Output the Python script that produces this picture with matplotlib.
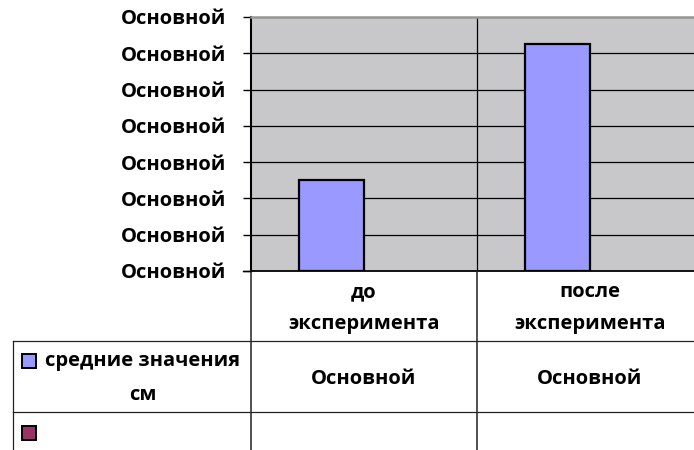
import matplotlib
matplotlib.use("Agg")
import matplotlib.pyplot as plt
from matplotlib.patches import Rectangle
from matplotlib.transforms import blended_transform_factory

# --- data -------------------------------------------------------------
categories = ["до\nэксперимента", "после\nэксперимента"]
series_names = ["средние значения\nсм", ""]
series_values = [[2.5, 6.25], [None, None]]
series_colors = ["#9999FF", "#993366"]
y_ticks = [0, 1, 2, 3, 4, 5, 6, 7]
y_tick_labels = ["Основной"] * len(y_ticks)
cell_labels = [["Основной", "Основной"], ["", ""]]

W, H = 694, 450
FONT = ["Open Sans", "DejaVu Sans"]
FS = 14.5

fig = plt.figure(figsize=(W / 100, H / 100), dpi=100)
fig.patch.set_facecolor("white")

# plot area in pixel coordinates (left, top, right, bottom)
L, T, R, B = 251, 17, 703, 271
ax = fig.add_axes([L / W, (H - B) / H, (R - L) / W, (B - T) / H])
ax.set_facecolor("#C8C8CB")

n_cat = len(categories)
x = list(range(n_cat))
bar_w = 0.288
n_ser = len(series_values)
for i, vals in enumerate(series_values):
    off = (i - (n_ser - 1) / 2) * bar_w
    for xi, v in zip(x, vals):
        if v is None:
            continue
        ax.bar(xi + off, v, width=bar_w, color=series_colors[i],
               edgecolor="black", linewidth=1.6, zorder=3)

ax.set_xlim(-0.5, n_cat - 0.5)
ax.set_ylim(y_ticks[0], y_ticks[-1])
ax.set_yticks(y_ticks)
ax.set_yticklabels(y_tick_labels, fontfamily=FONT, fontweight="bold", fontsize=FS)
ax.set_xticks([])
ax.tick_params(axis="y", length=6, width=1.0, color="black", pad=12)
for g in y_ticks[1:-1]:
    ax.axhline(g, color="black", linewidth=0.9, zorder=1)
for k in range(1, n_cat):
    ax.axvline(k - 0.5, color="black", linewidth=0.9, zorder=1)

ax.spines["right"].set_visible(False)
ax.spines["top"].set_color("#969696")
ax.spines["top"].set_linewidth(1.8)
ax.spines["left"].set_linewidth(1.5)
ax.spines["bottom"].set_linewidth(1.3)

# --- data table below the plot ----------------------------------------
ov = fig.add_axes([0, 0, 1, 1])
ov.set_xlim(0, W)
ov.set_ylim(H, 0)
ov.axis("off")
ov.patch.set_alpha(0)
tr = blended_transform_factory(ax.transData, ov.transData)

lc = "#222222"
lw = 0.9
row_top, row1_bot, row2_bot = 341, 412, H
tbl_left = 13
# horizontal rules
for yy in (row_top, row1_bot):
    ov.plot([tbl_left, W], [yy, yy], color=lc, linewidth=lw)
# outer left border of legend rows
ov.plot([tbl_left, tbl_left], [row_top, row2_bot], color=lc, linewidth=lw)
# column separators
for k in range(n_cat):
    ov.plot([k - 0.5, k - 0.5], [B, H], color=lc, linewidth=1.1, transform=tr)
# small tick at bottom-left of axis
ov.plot([L - 8, L], [B, B], color="black", linewidth=1.0)

txt = dict(fontfamily=FONT, fontweight="bold", fontsize=FS, color="black",
           ha="center", va="center")
line_gap = 32
for xi, cat in zip(x, categories):
    lines = cat.split("\n")
    y0 = 292
    for j, ln in enumerate(lines):
        ov.text(xi, y0 + j * line_gap, ln, transform=tr, **txt)

key_x, key_s = 29, 14
row_y = [361, 433]
for i, name in enumerate(series_names):
    yc = row_y[i]
    ov.add_patch(Rectangle((key_x - key_s / 2, yc - key_s / 2), key_s, key_s,
                           facecolor=series_colors[i], edgecolor="black",
                           linewidth=1.4, zorder=4))
    if name:
        for j, ln in enumerate(name.split("\n")):
            ov.text(142.5, yc + j * 34, ln, **txt)
    for xi, lab in zip(x, cell_labels[i]):
        if lab:
            ov.text(xi, (row_top + row1_bot) / 2 + 2, lab, transform=tr, **txt)

fig.savefig("out.png", dpi=100)
